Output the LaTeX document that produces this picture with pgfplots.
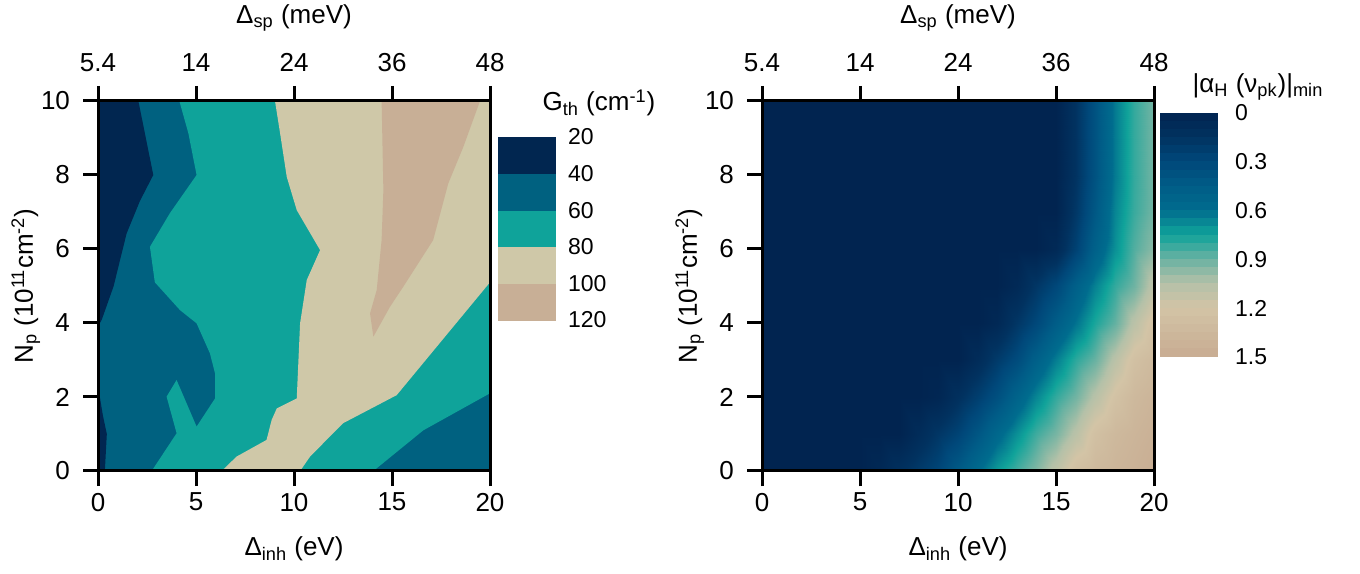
\documentclass[border=0pt]{standalone}
\usepackage{fontspec}
\setmainfont{Liberation Sans}
\usepackage{pgfplots}
\pgfplotsset{compat=1.18}
\definecolor{cA}{RGB}{1,38,80}
\definecolor{cB}{RGB}{0,97,128}
\definecolor{cC}{RGB}{15,163,154}
\definecolor{cD}{RGB}{207,200,168}
\definecolor{cE}{RGB}{200,175,150}
\newcommand\lbl{\fontsize{13}{15}\selectfont}
\newcommand\cbl{\fontsize{11.5}{13}\selectfont}
\pgfplotsset{
  common/.style={
    scale only axis, width=196pt, height=185pt,
    xmin=0, xmax=20, ymin=0, ymax=10,
    tick align=outside, major tick length=7.5pt,
    every tick/.style={black, line width=1.5pt},
    axis line style={line width=1.5pt},
    tick label style={font=\lbl},
    /pgf/number format/assume math mode=true,
    xtick={0,5,10,15,20},
  },
  myaxis/.style={
    common,
    ytick={0,2,4,6,8,10},
    xtick pos=bottom, ytick pos=left,
    yticklabel style={xshift=-3pt},
    xlabel={Δ\textsubscript{inh} (eV)},
    ylabel={N\textsubscript{p} (10\textsuperscript{11}cm\textsuperscript{-2})},
    xlabel style={at={(axis description cs:0.5,-0.211)}, anchor=center, font=\lbl},
    ylabel style={at={(axis description cs:-0.184,0.5)}, rotate=0, anchor=center, font=\lbl},
    axis on top,
  },
  topaxis/.style={
    common,
    axis x line*=top, axis y line=none,
    xticklabels={5.4,14,24,36,48},
    xticklabel style={yshift=3.5pt},
    xlabel={Δ\textsubscript{sp} (meV)},
    xlabel style={at={(axis description cs:0.5,1.225)}, anchor=center, font=\lbl},
  },
}
\begin{document}
\begin{tikzpicture}
\useasboundingbox (0,0) rectangle (680pt,286.5pt);
% ---------------- left panel ----------------
\begin{axis}[myaxis, at={(49pt,51pt)}, anchor=south west,
  colormap={gth}{rgb255=(1,38,80) rgb255=(0,97,128) rgb255=(15,163,154) rgb255=(207,200,168) rgb255=(200,175,150)},
  colormap access=piecewise constant,
  point meta min=20, point meta max=120,
  colorbar,
  colorbar style={at={(parent axis.north east)}, anchor=north west,
    xshift=-4.5pt, yshift=-18pt, width=28.5pt, height=91.5pt,
    y dir=reverse, ytick={20,40,60,80,100,120},
    yticklabels={20,40,60,80,100,120},
    axis line style={draw=none}, major tick length=0pt,
    yticklabel style={font=\cbl, xshift=3pt}},
]
\addplot[draw=none, fill=cB] coordinates {(0,0) (20,0) (20,10) (0,10)} -- cycle;
\addplot[draw=none, fill=cA] coordinates {(0,10) (2.06,10) (2.82,8.0) (2.14,7.3) (1.46,6.42) (1.04,5.52) (0.8,5.0) (0.2,4.1) (0,3.9)} -- cycle;
\addplot[draw=none, fill=cA] coordinates {(0,2.3) (0.25,1.5) (0.45,1.0) (0.35,0) (0,0)} -- cycle;
\addplot[draw=none, fill=cC] coordinates {(4.15,10) (4.61,9.13) (5.03,8.0) (3.67,6.97) (2.65,6.06) (2.9,5.1) (4.18,4.35) (5.03,3.99) (5.71,3.18) (5.97,2.64) (5.97,1.96) (5.03,1.2) (4.01,2.46) (3.5,2.01) (4.01,1.02) (2.74,0) (14.05,0) (16.6,1.1) (20,2.1) (20,10)} -- cycle;
\addplot[draw=none, fill=cD] coordinates {(9.03,10) (9.29,9.13) (9.63,7.95) (10.14,7.05) (11.33,5.97) (10.65,5.16) (10.31,3.99) (10.14,1.96) (9.12,1.69) (8.86,1.38) (8.6,0.84) (7.07,0.39) (6.31,0) (10.31,0) (10.82,0.39) (12.5,1.29) (15.24,2.05) (20,5.1) (20,10)} -- cycle;
\addplot[draw=none, fill=cE] coordinates {(14.47,10) (14.56,7.59) (14.47,6.24) (14.22,4.89) (13.88,4.26) (14.05,3.63) (14.9,4.44) (15.6,5.0) (17.1,6.24) (17.87,7.77) (18.64,8.76) (19.49,10)} -- cycle;
\end{axis}
\begin{axis}[topaxis, at={(49pt,51pt)}, anchor=south west]
\addplot[draw=none] coordinates {(0,0)};
\end{axis}
% ---------------- right panel ----------------
\begin{axis}[myaxis, at={(381pt,51pt)}, anchor=south west, view={0}{90},
  colormap={alpha}{rgb255=(1,36,80) rgb255=(1,50,96) rgb255=(0,72,122) rgb255=(0,92,135) rgb255=(0,108,142) rgb255=(16,163,154) rgb255=(105,178,162) rgb255=(180,193,168) rgb255=(211,196,166) rgb255=(205,184,156) rgb255=(200,172,146)},
  point meta min=0, point meta max=1.5,
  colorbar sampled,
  colorbar style={at={(parent axis.north east)}, anchor=north west,
    xshift=-5.5pt, yshift=-6pt, width=29pt, height=122pt,
    samples=31,
    y dir=reverse, ytick={0,0.3,0.6,0.9,1.2,1.5},
    yticklabels={0,0.3,0.6,0.9,1.2,1.5},
    axis line style={draw=none}, major tick length=0pt,
    yticklabel style={font=\cbl, xshift=5pt}},
]
\addplot3[surf, shader=interp] table {
x y z
0 0 0
1 0 0
2 0 0
3 0 0
4 0 0
5 0 0
6 0 0.05
7 0 0.13
8 0 0.21
9 0 0.29
10 0 0.44
11 0 0.59
12 0 0.73
13 0 0.84
14 0 0.95
15 0 1.10
16 0 1.27
17 0 1.34
18 0 1.39
19 0 1.43
20 0 1.48

0 1 0
1 1 0
2 1 0
3 1 0
4 1 0
5 1 0
6 1 0
7 1 0
8 1 0.09
9 1 0.18
10 1 0.27
11 1 0.41
12 1 0.56
13 1 0.70
14 1 0.83
15 1 0.93
16 1 1.08
17 1 1.25
18 1 1.34
19 1 1.39
20 1 1.44

0 2 0
1 2 0
2 2 0
3 2 0
4 2 0
5 2 0
6 2 0
7 2 0
8 2 0
9 2 0.03
10 2 0.13
11 2 0.24
12 2 0.36
13 2 0.52
14 2 0.67
15 2 0.81
16 2 0.92
17 2 1.07
18 2 1.23
19 2 1.34
20 2 1.40

0 3 0
1 3 0
2 3 0
3 3 0
4 3 0
5 3 0
6 3 0
7 3 0
8 3 0
9 3 0
10 3 0
11 3 0.09
12 3 0.21
13 3 0.33
14 3 0.49
15 3 0.65
16 3 0.80
17 3 0.90
18 3 1.08
19 3 1.25
20 3 1.33

0 4 0
1 4 0
2 4 0
3 4 0
4 4 0
5 4 0
6 4 0
7 4 0
8 4 0
9 4 0
10 4 0
11 4 0
12 4 0.05
13 4 0.18
14 4 0.30
15 4 0.46
16 4 0.62
17 4 0.77
18 4 0.89
19 4 1.08
20 4 1.25

0 5 0
1 5 0
2 5 0
3 5 0
4 5 0
5 5 0
6 5 0
7 5 0
8 5 0
9 5 0
10 5 0
11 5 0
12 5 0
13 5 0.06
14 5 0.18
15 5 0.30
16 5 0.49
17 5 0.66
18 5 0.81
19 5 0.91
20 5 1.10

0 6 0
1 6 0
2 6 0
3 6 0
4 6 0
5 6 0
6 6 0
7 6 0
8 6 0
9 6 0
10 6 0
11 6 0
12 6 0
13 6 0
14 6 0
15 6 0.06
16 6 0.26
17 6 0.50
18 6 0.70
19 6 0.86
20 6 0.97

0 7 0
1 7 0
2 7 0
3 7 0
4 7 0
5 7 0
6 7 0
7 7 0
8 7 0
9 7 0
10 7 0
11 7 0
12 7 0
13 7 0
14 7 0
15 7 0
16 7 0.19
17 7 0.42
18 7 0.67
19 7 0.82
20 7 0.92

0 8 0
1 8 0
2 8 0
3 8 0
4 8 0
5 8 0
6 8 0
7 8 0
8 8 0
9 8 0
10 8 0
11 8 0
12 8 0
13 8 0
14 8 0
15 8 0
16 8 0.16
17 8 0.38
18 8 0.64
19 8 0.81
20 8 0.92

0 9 0
1 9 0
2 9 0
3 9 0
4 9 0
5 9 0
6 9 0
7 9 0
8 9 0
9 9 0
10 9 0
11 9 0
12 9 0
13 9 0
14 9 0
15 9 0
16 9 0.16
17 9 0.38
18 9 0.64
19 9 0.81
20 9 0.92

0 10 0
1 10 0
2 10 0
3 10 0
4 10 0
5 10 0
6 10 0
7 10 0
8 10 0
9 10 0
10 10 0
11 10 0
12 10 0
13 10 0
14 10 0
15 10 0
16 10 0.16
17 10 0.38
18 10 0.64
19 10 0.81
20 10 0.92
};
\end{axis}
\begin{axis}[topaxis, at={(381pt,51pt)}, anchor=south west]
\addplot[draw=none] coordinates {(0,0)};
\end{axis}
% colorbar titles
\node[font=\lbl] at (299.5pt,235pt) {G\textsubscript{th} (cm\textsuperscript{-1})};
\node[font=\lbl] at (629pt,243pt) {|α\textsubscript{H} (ν\textsubscript{pk})|\textsubscript{min}};
\end{tikzpicture}
\end{document}
